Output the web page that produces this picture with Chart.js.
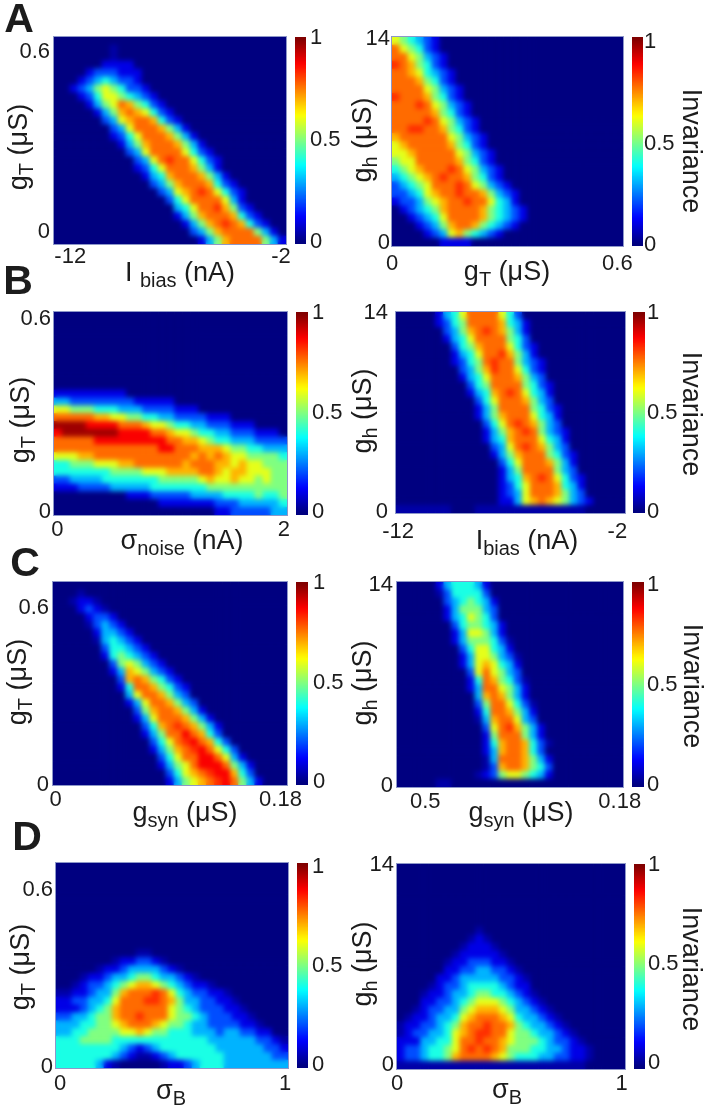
<!DOCTYPE html>
<html><head><meta charset="utf-8">
<style>
html,body{margin:0;padding:0;background:#fff;width:707px;height:1113px;overflow:hidden}
canvas{position:absolute;display:block}
.t{position:absolute;left:0;top:0;transform-origin:0 0;font-family:"Liberation Sans",Arial,sans-serif;line-height:1;white-space:nowrap;color:#1c1c1c}
.t span{position:relative;top:6px;font-size:20px}
</style>
<script src="https://cdn.jsdelivr.net/npm/chart.js@4"></script>
</head><body>
<script>
// Invariance grids, 29 columns by 26 rows, top row first. "start:cells": '.'=0.04, digit=tenths (8=0.77, 9=0.83), b=0.88, a=0.97
const gridAL=["","7:.","7:.","6:1111","4:1222111","3:12343221","2:1235654221","3:1246654321","4:1356875421","5:1357876421","6:2367887421","7:2368887531","7:12468887531","8:13578887531","9:23688886421","10:23689886421","10:12468887531","11:13478887531","12:23578887421","13:23678986421","14:2468888631","15:3468897521","15:13578887421","16:13578987421","17:23578888531","18:13578888531"];
const gridAR=["0:654321","0:865421","0:8865321","0:9875421","0:88764321","0:88875421","0:888865321","0:988875421","0:8889865321","0:8888875421","0:88889865321","0:88998875421","0:788888865321","0:678888875421","0:6678888865321","0:5668888875421","0:45678889865321","0:34567898875421","0:234568889865321","0:2234678898875321","0:1223567889886431","1:1234578888754321","2:123468888754321","3:1235788754321","4:1236754321","6:1111"];
const gridBL=["","","","","","","","","","","0:111111111","0:332222222211111","0:665554443332222111","0:8888877665544332222111","0:aaaabbbb88876654433222111","0:baaaaaaabbbb8876654433222111","0:88888bbbbbbbbb887765443332222","0:8888888888888bb88877765544333","0:66677888888888888787876655554","0:44555666778888887888776766555","0:44444445555666777788767766655","0:22333344444445555567667665655","0:11122223333344444445555555555","9:11122222333344445445","13:1111111222333334","20:112222233"];
const gridBR=["5:13468888642","5:124588887431","6:23578987531","6:13468888542","7:24578886421","7:13468897531","7:124589885321","8:23579886421","8:13468887532","9:24588885421","9:13478986431","10:2468887532","10:13588885421","10:13578886431","11:2468987532","11:13578985321","11:13478886431","12:2368987532","12:13578885421","13:2468887531","13:1358888532","13:13478986421","13:12468887431","13:12368887532","13:113678765321","0:.......000.............."];
const gridCL=["","3:.","2:.11.","3:121.","4:1221","4:.2321","5:13321","5:.34321","6:244321","6:1454321","7:2565321","7:13765321","8:27875421","8:148875421","9:36887532","9:136887532","10:257887531","10:1368887531","11:2478987531","11:13588b8742","12:24689b8742","12:135789b8642","13:24688bb8631","13:13568bbb8531","14:246789bb742","14:1356789b8531"];
const gridCR=["5:1344431","5:.244442","6:2345431","6:1355532","6:1346542","7:2455431","7:1366531","7:1355542.","8:2466431","8:1366532.","8:13676431","9:2686532","9:1487542.","9:13886531","10:3787531","10:2588642.","10:14887531","10:.3788632","11:26897531","11:15888531","11:14788742.","11:13788742","11:.38887531","11:.27887542","10:.125665431","5:.."];
const gridDL=["","","","","","","","","","","","10:..","7:.11221.","5:.112333321.","3:.1123345543321.","2:.1223456776543211.","0:..1123357888986432211.","0:1122334688899875332211.","0:11123457888888654322211.","0:223345578898886554322211.","0:3334455678887655433222211.","0:334455556676554443332332211","0:4445555444444444444333333221.","0:44444444321234444444333333221","0:4444444321..12344444433333322","0:4444431.00000.112344433333333"];
const gridDR=["","","","","","","","","10:.","9:.1.","8:.111.","7:.11111.","6:.1122211.","6:112233221.","5:11233333221.","4:.122344443211","3:.1123345544321.","3:112234566654321.","2:.1223356777653321.","1:.112334678887643321.","0:.11223457889887543321.","0:.122334678998865543321.","0:11133446889887655543221.","0:122344568989875554433211.","0:122344578888765444332211.","0:........................"];
const colorbarLevels=[1,.98,.96,.94,.92,.9,.88,.86,.84,.82,.8,.78,.76,.74,.72,.7,.68,.66,.64,.62,.6,.58,.56,.54,.52,.5,.48,.46,.44,.42,.4,.38,.36,.34,.32,.3,.28,.26,.24,.22,.2,.18,.16,.14,.12,.1,.08,.06,.04,.02,0];
// Tick values and labels
const gTTicks=[0,0.6], gTLabels=["0","0.6"];
const ghTicks=[0,14], ghLabels=["0","14"];
const iBiasTicks=[-12,-2], iBiasLabels=["-12","-2"];
const noiseTicks=[0,2], noiseLabels=["0","2"];
const synTicksL=[0,0.18], synLabelsL=["0","0.18"];
const synTicksR=[0.05,0.18], synLabelsR=["0.5","0.18"];
const sigmaTicks=[0,1], sigmaLabels=["0","1"];
const colorbarTicks=[0,0.5,1], colorbarLabels=["0","0.5","1"];

const panels=[
 {g:gridAL,b:[54,286,37,244],x:[-12.77,-1.76,iBiasTicks,iBiasLabels,0],y:[-0.04,0.65,gTTicks,gTLabels,4],cb:[295,306,-.01,1.005,4]},
 {g:gridAR,b:[392,623,37,246],x:[0,0.615,gTTicks,gTLabels,5],y:[-0.2,14.14,ghTicks,ghLabels,2],cb:[632,643,-.005,1.025,1]},
 {g:gridBL,b:[54,287,312,515],x:[-0.03,2.027,noiseTicks,noiseLabels,2],y:[-0.009,0.62,gTTicks,gTLabels,3],cb:[296,308,-.015,1.005,4]},
 {g:gridBR,b:[396,625,312,513],x:[-12.1,-1.65,iBiasTicks,iBiasLabels,6],y:[-0.07,14.09,ghTicks,ghLabels,8],cb:[633,645,-.005,1.005,2]},
 {g:gridCL,b:[53,287,582,785],x:[-0.002,0.1852,synTicksL,synLabelsL,2],y:[0,0.6865,gTTicks,gTLabels,4],cb:[296,308,-.015,1.005,5]},
 {g:gridCR,b:[397,623,582,787],x:[0.0311,0.1822,synTicksR,synLabelsR,2],y:[-0.05,14.19,ghTicks,ghLabels,4],cb:[632,644,-.01,1.015,3]},
 {g:gridDL,b:[56,288,863,1068],x:[-0.018,1.013,sigmaTicks,sigmaLabels,3],y:[-0.002,0.691,gTTicks,gTLabels,3],cb:[297,308,-.015,1.02,4]},
 {g:gridDR,b:[397,625,864,1069],x:[0,1.015,sigmaTicks,sigmaLabels,2],y:[-0.28,14.09,ghTicks,ghLabels,3],cb:[634,645,-.03,1.005,3]}
];
const FONT="'Liberation Sans',Arial,sans-serif", COLS=29;

function clamp(v){return Math.max(0,Math.min(1,v));}
function jet(v){
  const r=clamp(1.5-Math.abs(4*v-3)),g=clamp(1.5-Math.abs(4*v-2)),b=clamp(1.5-Math.abs(4*v-1));
  return `rgb(${Math.round(r*255)},${Math.round(g*255)},${Math.round(b*255)})`;
}
function decodeRow(s){
  const out=new Array(COLS).fill(0);
  if(!s)return out;
  const [st,cells]=s.split(":");
  const special={".":0.04,"a":0.97,"b":0.88,"9":0.83,"8":0.77};
  Array.from(cells).forEach((ch,i)=>{
    const c=+st+i; if(c>=COLS)return;
    out[c]=ch in special?special[ch]:(+ch)/10;
  });
  return out;
}
function smooth(radius){return {id:"smooth",afterDatasetsDraw(chart){
  const a=chart.chartArea,ctx=chart.ctx,w=Math.round(a.right-a.left),h=Math.round(a.bottom-a.top);
  const off=document.createElement("canvas");off.width=w;off.height=h;
  off.getContext("2d").drawImage(chart.canvas,a.left,a.top,w,h,0,0,w,h);
  ctx.save();ctx.beginPath();ctx.rect(a.left,a.top,w,h);ctx.clip();
  ctx.filter=`blur(${radius}px)`;ctx.drawImage(off,a.left,a.top);ctx.restore();
}};}
const frame={id:"frame",afterDraw(chart){
  const a=chart.chartArea,ctx=chart.ctx;ctx.save();ctx.strokeStyle="#8d97c9";ctx.lineWidth=1;
  ctx.strokeRect(a.left-.5,a.top-.5,a.right-a.left+1,a.bottom-a.top+1);ctx.restore();
}};
function fixSize(prop,val){return s=>{s[prop]=val;s.paddingLeft=s.paddingRight=s.paddingTop=s.paddingBottom=0;};}
function tickAxis(position,min,max,vals,labels,pad,prop,size){
  return {type:"linear",position,axis:(position==="bottom")?"x":"y",min,max,offset:false,
    grid:{display:false,drawTicks:false,offset:false},border:{display:false},
    afterBuildTicks:s=>{s.ticks=vals.map(v=>({value:v}));},
    afterFit:fixSize(prop,size),
    ticks:{autoSkip:false,maxRotation:0,minRotation:0,padding:pad,color:"#1c1c1c",font:{family:FONT,size:22},
      callback:(v,i)=>labels[i]}};
}
function gridAxes(cols,rows){
  return {x:{type:"category",labels:cols,stacked:true,display:false,offset:true,grid:{display:false}},
          y:{type:"linear",stacked:true,display:false,min:0,max:rows,grid:{display:false}}};
}
function makeCanvas(l,t,w,h){
  const c=document.createElement("canvas");c.width=w;c.height=h;
  c.style.left=l+"px";c.style.top=t+"px";c.style.width=w+"px";c.style.height=h+"px";
  document.body.appendChild(c);return c;
}
const base={responsive:false,animation:false,events:[],devicePixelRatio:1,
  plugins:{legend:{display:false},title:{display:false},tooltip:{enabled:false}}};

panels.forEach(p=>{
  const [x0,x1,y0,y1]=p.b,w=x1-x0,h=y1-y0;
  const rows=p.g.map(decodeRow);
  const cols=rows[0].map((_,i)=>String(i));
  const datasets=rows.slice().reverse().map(r=>({data:r.map(()=>1),backgroundColor:r.map(jet),
    borderWidth:0,barPercentage:1,categoryPercentage:1,stack:"s"}));
  new Chart(makeCanvas(x0-50,y0-10,w+85,h+40),{type:"bar",data:{labels:cols,datasets},
    options:{...base,layout:{padding:{top:10,right:35,left:0,bottom:0}},
      scales:{...gridAxes(cols,rows.length),
        xv:tickAxis("bottom",p.x[0],p.x[1],p.x[2],p.x[3],p.x[4],"height",30),
        yv:tickAxis("left",p.y[0],p.y[1],p.y[2],p.y[3],p.y[4],"width",50)}},
    plugins:[smooth(2.8),frame]});
  // Colour bar
  const [c0,c1,cmin,cmax,cpad]=p.cb;
  const cbDatasets=colorbarLevels.slice().reverse().map(v=>({data:[1],backgroundColor:jet(v),
    borderWidth:0,barPercentage:1,categoryPercentage:1,stack:"s"}));
  new Chart(makeCanvas(c0,y0-10,c1-c0+50,h+20),{type:"bar",data:{labels:["Invariance"],datasets:cbDatasets},
    options:{...base,layout:{padding:{top:10,bottom:10,left:0,right:0}},
      scales:{...gridAxes(["Invariance"],colorbarLevels.length),
        yv:tickAxis("right",cmin,cmax,colorbarTicks,colorbarLabels,cpad,"width",50)}},
    plugins:[smooth(1.5)]});
});

function text(cx,base,html,size,rot,weight){
  const d=document.createElement("div");d.className="t";d.innerHTML=html;
  d.style.fontSize=size+"px";if(weight)d.style.fontWeight=weight;
  d.style.transform=`translate(${cx}px,${base}px) rotate(${rot}deg) translate(-50%,-0.8465em)`;
  document.body.appendChild(d);
}
const S=s=>`<span>${s}</span>`;
const gT=`g${S("T")} (μS)`, gh=`g${S("h")} (μS)`, gs=`g${S("syn")} (μS)`, ib=`I ${S("bias")} (nA)`, ib2=`I${S("bias")} (nA)`;
[[19,33,"A"],[18,295,"B"],[25,577,"C"],[27,851,"D"]].forEach(a=>text(a[0],a[1],a[2],41,0,"bold"));
[[180,282,ib],[507,281,gT],[182,550,`σ${S("noise")} (nA)`],[527,550,ib2],[185,822,gs],[521,822,gs],[171,1100,`σ${S("B")}`],[507,1099,`σ${S("B")}`]]
  .forEach(a=>text(a[0],a[1],a[2],27,0));
[[28,147,gT],[372,140,gh],[30,420,gT],[372,411,gh],[27,682,gT],[372,683,gh],[30,967,gT],[372,964,gh]]
  .forEach(a=>text(a[0],a[1],a[2],27,-90));
[[682,151],[682,414],[683,686],[682,969]].forEach(a=>text(a[0],a[1],"Invariance",27,90));
</script>
</body></html>
